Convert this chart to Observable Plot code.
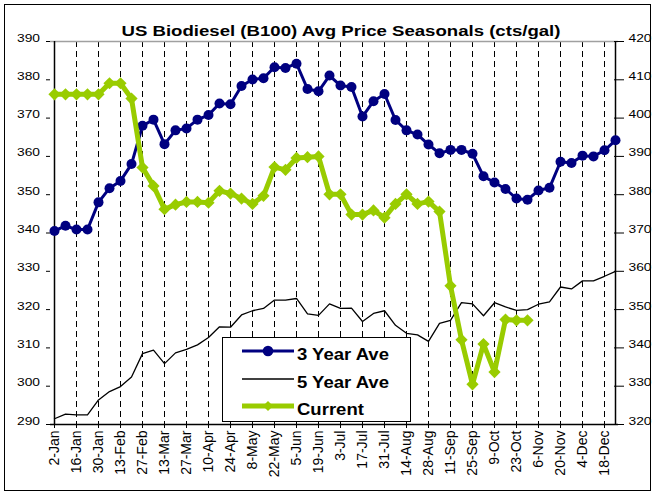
<!DOCTYPE html>
<html><head><meta charset="utf-8">
<script src="https://cdn.jsdelivr.net/npm/d3@7"></script>
<script src="https://cdn.jsdelivr.net/npm/@observablehq/plot@0.6"></script>
<style>
html,body{margin:0;padding:0;background:#fff;}
#wrap{position:relative;width:655px;height:493px;overflow:hidden;font-family:"Liberation Sans",Arial,sans-serif;}
#frame{position:absolute;left:4px;top:4px;width:645px;height:485px;border:1px solid #000;pointer-events:none;}
#title{position:absolute;left:341px;top:23px;font-size:15.5px;font-weight:bold;line-height:1;white-space:nowrap;transform:translateX(-50%) scaleX(1.2);color:#000;}
#wrap svg{position:absolute;left:0;top:0;}
</style></head>
<body>
<div id="wrap"><div id="frame"></div><div id="title">US Biodiesel (B100) Avg Price Seasonals (cts/gal)</div></div>
<script>
// weekly categories
const weeks = ["2-Jan","9-Jan","16-Jan","23-Jan","30-Jan","6-Feb","13-Feb","20-Feb","27-Feb","6-Mar",
  "13-Mar","20-Mar","27-Mar","3-Apr","10-Apr","17-Apr","24-Apr","1-May","8-May","15-May",
  "22-May","29-May","5-Jun","12-Jun","19-Jun","26-Jun","3-Jul","10-Jul","17-Jul","24-Jul",
  "31-Jul","7-Aug","14-Aug","21-Aug","28-Aug","4-Sep","11-Sep","18-Sep","25-Sep","2-Oct",
  "9-Oct","16-Oct","23-Oct","30-Oct","6-Nov","13-Nov","20-Nov","27-Nov","4-Dec","11-Dec",
  "18-Dec","25-Dec"];
// x tick labels
const tickLabels = ["2-Jan","16-Jan","30-Jan","13-Feb","27-Feb","13-Mar","27-Mar","10-Apr","24-Apr","8-May",
  "22-May","5-Jun","19-Jun","3-Jul","17-Jul","31-Jul","14-Aug","28-Aug","11-Sep","25-Sep",
  "9-Oct","23-Oct","6-Nov","20-Nov","4-Dec","18-Dec"];
// series (primary axis, cts/gal)
const threeYearAve = [340.5,341.9,340.9,340.9,348.0,351.7,353.6,358.0,368.0,369.6,
  363.2,366.8,367.3,369.6,370.8,373.8,373.6,378.4,380.1,380.4,
  383.3,383.1,384.2,377.6,377.0,381.1,378.5,378.1,370.4,374.4,
  376.3,369.5,366.8,365.7,363.1,360.8,361.7,361.7,360.7,354.8,
  353.2,351.5,349.0,348.7,351.1,351.8,358.6,358.3,360.2,360.0,
  361.6,364.2];
const fiveYearAve = [291.5,292.7,292.5,292.5,296.4,298.6,299.9,302.4,308.5,309.4,
  305.9,308.7,309.6,310.8,312.7,315.5,315.4,318.6,319.7,320.3,
  322.5,322.5,322.9,318.9,318.5,321.5,320.3,320.4,316.9,319.0,
  319.7,315.9,313.8,313.4,311.7,316.4,317.2,321.8,321.5,318.4,
  321.8,320.7,319.8,320.0,321.4,322.0,325.9,325.4,327.5,327.5,
  328.7,330.0];
// current (secondary axis, cts/gal)
const currentSecondary = [406.2,406.2,406.2,406.2,406.2,409.1,409.1,405.1,387.1,382.3,
  376.2,377.4,378.1,378.1,377.9,381.0,380.3,379.0,377.6,379.7,
  387.2,386.5,389.6,389.8,390.0,380.1,380.1,374.8,374.8,375.9,
  374.0,377.6,380.1,377.6,378.2,375.6,356.2,342.1,330.5,341.0,
  333.7,347.4,347.2,347.2];
const yTicksLeft = [290,300,310,320,330,340,350,360,370,380,390];
const leftDomain = [290,390];
const rightDomain = [320,420];
const legendItems = ["3 Year Ave","5 Year Ave","Current"];

const offset = rightDomain[0] - leftDomain[0];
const three = weeks.map((w,i)=>({week:w, v:threeYearAve[i]}));
const five = weeks.map((w,i)=>({week:w, v:fiveYearAve[i]}));
const current = currentSecondary.map((v,i)=>({week:weeks[i], v}));

const NAVY = "#000080", GREEN = "#99CC00";
const chart = Plot.plot({
  width:655, height:493, marginLeft:50, marginRight:37, marginTop:41, marginBottom:69,
  style:{fontFamily:'"Liberation Sans", Arial, sans-serif', background:"transparent", color:"#000"},
  x:{type:"point", domain:weeks, padding:0},
  y:{domain:leftDomain},
  marks:[
    Plot.ruleX(tickLabels.slice(1), {stroke:"#000", strokeWidth:1, strokeDasharray:"6,4"}),
    Plot.ruleY([leftDomain[1]], {stroke:"#a0a0a0", strokeWidth:1.5}),
    Plot.ruleY([leftDomain[0]], {stroke:"#000", strokeWidth:1.5}),
    Plot.ruleX([weeks[0], weeks[weeks.length-1]], {stroke:"#000", strokeWidth:1.5}),
    Plot.axisX({anchor:"bottom", ticks:tickLabels, tickRotate:-90, tickSize:4, tickPadding:2, fontSize:14, label:null}),
    Plot.axisY({anchor:"left", ticks:yTicksLeft, tickSize:4, tickPadding:6.5, fontSize:11.5, label:null, tickFormat:d=>String(d)}),
    Plot.axisY({anchor:"right", ticks:yTicksLeft, tickSize:10, dx:-5, tickPadding:5, fontSize:11.5, label:null, tickFormat:d=>String(d+offset)}),
    Plot.line(five, {x:"week", y:"v", stroke:"#000", strokeWidth:1.3}),
    Plot.line(three, {x:"week", y:"v", stroke:NAVY, strokeWidth:3}),
    Plot.dot(three, {x:"week", y:"v", r:5, fill:NAVY}),
    Plot.line(current, {x:"week", y:d=>d.v-offset, stroke:GREEN, strokeWidth:5}),
    Plot.dot(current, {x:"week", y:d=>d.v-offset, symbol:"diamond2", r:5.5, fill:GREEN})
  ]
});
document.getElementById("wrap").appendChild(chart);

// widen y tick labels horizontally like the reference rendering
d3.select(chart).selectAll('g[aria-label="y-axis tick label"] text').each(function(){
  const t = this.getAttribute("transform");
  const x = this.getAttribute("x"), y = this.getAttribute("y");
  let base = t || "";
  if (x != null || y != null) { base += ` translate(${+x||0},${+y||0})`; this.removeAttribute("x"); this.removeAttribute("y"); }
  this.setAttribute("transform", base + " scale(1.2,1)");
});

// legend
const leg = d3.select("#wrap").append("svg").attr("width",655).attr("height",493);
leg.append("rect").attr("x",222.5).attr("y",337.5).attr("width",188).attr("height",84)
  .attr("fill","#fff").attr("stroke","#000").attr("stroke-width",1);
const rows = [
  {y:351, base:360, stroke:NAVY, w:3, marker:"circle"},
  {y:379, base:387.5, stroke:"#000", w:1.5, marker:null},
  {y:406, base:415, stroke:GREEN, w:5, marker:"diamond"}
];
rows.forEach((r,i)=>{
  leg.append("line").attr("x1",242).attr("x2",294).attr("y1",r.y).attr("y2",r.y)
    .attr("stroke",r.stroke).attr("stroke-width",r.w);
  if (r.marker==="circle") leg.append("circle").attr("cx",268).attr("cy",r.y).attr("r",5.3).attr("fill",NAVY);
  if (r.marker==="diamond") leg.append("path").attr("d",`M268,${r.y-5}L273,${r.y}L268,${r.y+5}L263,${r.y}Z`).attr("fill",GREEN);
  leg.append("text").attr("transform",`translate(297,${r.base}) scale(1.09,1)`)
    .attr("font-family",'"Liberation Sans", Arial, sans-serif').attr("font-weight","bold")
    .attr("font-size",17).attr("fill","#000").text(legendItems[i]);
});
</script>
</body></html>
